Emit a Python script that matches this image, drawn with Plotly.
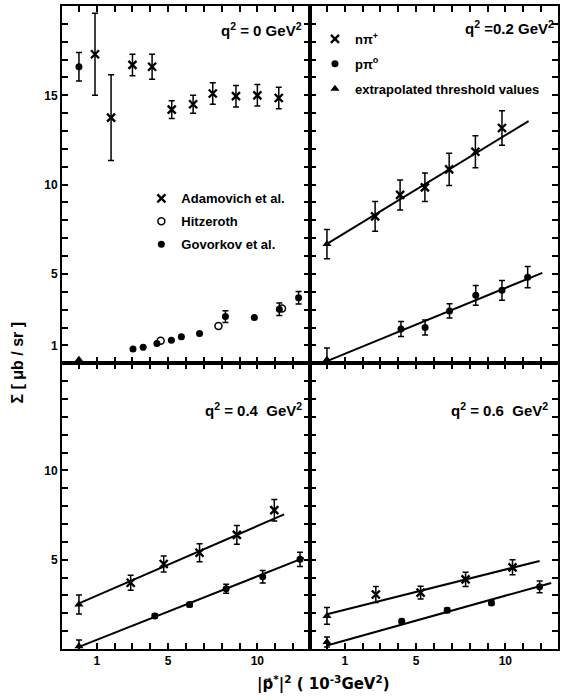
import plotly.graph_objects as go
from plotly.subplots import make_subplots

# ---------------- data ----------------
# panel q^2 = 0 GeV^2
adam_x = [0.9, 1.8, 3.0, 4.1, 5.2, 6.4, 7.5, 8.8, 10.0, 11.2]
adam_y = [17.3, 13.75, 16.7, 16.6, 14.2, 14.5, 15.1, 14.95, 15.0, 14.85]
adam_e = [2.3, 2.4, 0.6, 0.7, 0.5, 0.5, 0.6, 0.6, 0.6, 0.6]
hitz_x = [4.58, 7.82, 11.38]
hitz_y = [1.26, 2.09, 3.07]
govo_x = [0.0, 3.03, 3.6, 4.37, 5.18, 5.74, 6.76, 8.21, 9.83, 11.23, 12.31]
govo_y = [16.6, 0.79, 0.89, 1.11, 1.29, 1.48, 1.67, 2.61, 2.56, 3.02, 3.67]
govo_e = [0.8, 0, 0, 0, 0, 0, 0, 0.33, 0, 0.35, 0.35]
thr0_x = [0.0]
thr0_y = [0.2]

# panel q^2 = 0.2 GeV^2
p2_npi_x = [2.7, 4.1, 5.49, 6.85, 8.32, 9.81]
p2_npi_y = [8.22, 9.42, 9.85, 10.85, 11.84, 13.17]
p2_npi_e = [0.83, 0.84, 0.8, 0.9, 0.9, 0.97]
p2_ppi_x = [4.15, 5.5, 6.87, 8.34, 9.81, 11.25]
p2_ppi_y = [1.91, 2.0, 2.93, 3.8, 4.08, 4.82]
p2_ppi_e = [0.42, 0.42, 0.4, 0.55, 0.55, 0.6]
p2_thr_x = [0.0, 0.0]
p2_thr_y = [6.67, 0.2]
p2_thr_e = [0.82, 0.65]
p2_fit_npi_x = [0.0, 11.3]
p2_fit_npi_y = [6.68, 13.56]
p2_fit_ppi_x = [0.0, 12.07]
p2_fit_ppi_y = [0.12, 5.06]

# panel q^2 = 0.4 GeV^2
p4_npi_x = [2.9, 4.75, 6.76, 8.85, 10.95]
p4_npi_y = [3.71, 4.76, 5.39, 6.39, 7.77]
p4_npi_e = [0.42, 0.45, 0.5, 0.53, 0.6]
p4_ppi_x = [4.25, 6.2, 8.25, 10.3, 12.39]
p4_ppi_y = [1.85, 2.49, 3.37, 4.05, 5.02]
p4_ppi_e = [0.12, 0.12, 0.25, 0.35, 0.4]
p4_thr_x = [0.0, 0.0]
p4_thr_y = [2.49, 0.15]
p4_thr_e = [0.53, 0.35]
p4_fit_npi_x = [0.0, 11.5]
p4_fit_npi_y = [2.55, 7.54]
p4_fit_ppi_x = [0.0, 12.6]
p4_fit_ppi_y = [0.12, 5.1]

# panel q^2 = 0.6 GeV^2
p6_npi_x = [2.74, 5.25, 7.77, 10.4]
p6_npi_y = [3.05, 3.16, 3.9, 4.57]
p6_npi_e = [0.45, 0.36, 0.4, 0.42]
p6_ppi_x = [4.19, 6.74, 9.22, 11.92]
p6_ppi_y = [1.55, 2.17, 2.58, 3.48]
p6_ppi_e = [0.12, 0.12, 0.12, 0.33]
p6_thr_x = [0.0, 0.0]
p6_thr_y = [1.85, 0.39]
p6_thr_e = [0.47, 0.28]
p6_fit_npi_x = [0.0, 11.92]
p6_fit_npi_y = [1.95, 4.93]
p6_fit_ppi_x = [0.0, 12.57]
p6_fit_ppi_y = [0.2, 3.7]

x_tick_labels = [1, 5, 10]
top_y_tick_labels = [1, 5, 10, 15]
bot_y_tick_labels = [5, 10]

panel_titles = ["q<sup>2</sup> = 0 GeV<sup>2</sup>",
                "q<sup>2</sup> =0.2 GeV<sup>2</sup>",
                "q<sup>2</sup> = 0.4  GeV<sup>2</sup>",
                "q<sup>2</sup> = 0.6  GeV<sup>2</sup>"]

# ---------------- figure ----------------
FONT = "Liberation Sans"
fig = make_subplots(rows=2, cols=2, horizontal_spacing=0, vertical_spacing=0,
                    row_heights=[20 / 36, 16 / 36])

ERR = dict(type="data", thickness=1.5, width=3, color="black")


def pts(x, y, e, symbol, row, col, name=None, legend=None, size=7, group=None):
    if symbol == "x-thin":
        marker = dict(symbol=symbol, size=8, color="black", line=dict(width=2.4, color="black"))
    elif symbol == "circle-open":
        marker = dict(symbol=symbol, size=size, color="black", line=dict(width=1.5, color="black"))
    else:
        marker = dict(symbol=symbol, size=size, color="black", line=dict(width=0))
    tr = go.Scatter(x=x, y=y, mode="markers", marker=marker, cliponaxis=False,
                    error_y=dict(array=e, visible=e is not None, **ERR),
                    showlegend=name is not None, name=name or "",
                    legendgroup=group)
    if legend:
        tr.legend = legend
    fig.add_trace(tr, row=row, col=col)


def fit(x, y, row, col):
    fig.add_trace(go.Scatter(x=x, y=y, mode="lines", line=dict(color="black", width=2),
                             showlegend=False, hoverinfo="skip"), row=row, col=col)


# q2 = 0
pts(adam_x, adam_y, adam_e, "x-thin", 1, 1, "Adamovich et al.", "legend", group="a")
pts(hitz_x, hitz_y, None, "circle-open", 1, 1, "Hitzeroth", "legend", group="b")
pts(govo_x, govo_y, govo_e, "circle", 1, 1, "Govorkov et al.", "legend", group="c")
pts(thr0_x, thr0_y, None, "triangle-up", 1, 1, size=8)

# q2 = 0.2
fit(p2_fit_npi_x, p2_fit_npi_y, 1, 2)
fit(p2_fit_ppi_x, p2_fit_ppi_y, 1, 2)
pts(p2_npi_x, p2_npi_y, p2_npi_e, "x-thin", 1, 2, "n\u03c0<sup>+</sup>", "legend2", group="d")
pts(p2_ppi_x, p2_ppi_y, p2_ppi_e, "circle", 1, 2, "p\u03c0<sup>o</sup>", "legend2", group="e")
pts(p2_thr_x, p2_thr_y, p2_thr_e, "triangle-up", 1, 2, "extrapolated threshold values",
    "legend2", size=8, group="f")

# q2 = 0.4
fit(p4_fit_npi_x, p4_fit_npi_y, 2, 1)
fit(p4_fit_ppi_x, p4_fit_ppi_y, 2, 1)
pts(p4_npi_x, p4_npi_y, p4_npi_e, "x-thin", 2, 1)
pts(p4_ppi_x, p4_ppi_y, p4_ppi_e, "circle", 2, 1)
pts(p4_thr_x, p4_thr_y, p4_thr_e, "triangle-up", 2, 1, size=8)

# q2 = 0.6
fit(p6_fit_npi_x, p6_fit_npi_y, 2, 2)
fit(p6_fit_ppi_x, p6_fit_ppi_y, 2, 2)
pts(p6_npi_x, p6_npi_y, p6_npi_e, "x-thin", 2, 2)
pts(p6_ppi_x, p6_ppi_y, p6_ppi_e, "circle", 2, 2)
pts(p6_thr_x, p6_thr_y, p6_thr_e, "triangle-up", 2, 2, size=8)

MINOR = dict(ticks="inside", ticklen=6, tickwidth=1.5, tickcolor="black", dtick=1, tick0=0,
             showgrid=False)
AX = dict(showline=True, linewidth=2, linecolor="black", mirror="ticks",
          ticks="inside", ticklen=6, tickwidth=1.5, tickcolor="black",
          showgrid=False, zeroline=False, minor=MINOR, tickmode="array",
          tickfont=dict(family=FONT, size=12, color="black", weight="bold"))

for r in (1, 2):
    for c in (1, 2):
        fig.update_xaxes(AX, range=[-0.95, 12.95], tickvals=x_tick_labels,
                         ticktext=[str(v) for v in x_tick_labels],
                         showticklabels=(r == 2), row=r, col=c)
        yv = top_y_tick_labels if r == 1 else bot_y_tick_labels
        fig.update_yaxes(AX, range=[0, 20] if r == 1 else [0, 16], tickvals=yv,
                         ticktext=[str(v) for v in yv],
                         showticklabels=(c == 1), row=r, col=c)

TXT = dict(family=FONT, size=13, color="black", weight="bold")
TTL = dict(family=FONT, size=15, color="black", weight="bold")
# panel labels: (axis suffix, x domain, y domain)
label_pos = [("", 0.976, 0.933), ("2", 0.992, 0.939), ("3", 0.976, 0.839), ("4", 0.968, 0.839)]
for (sfx, lx, ly), txt in zip(label_pos, panel_titles):
    fig.add_annotation(text=txt, xref=f"x{sfx} domain", yref=f"y{sfx} domain",
                       x=lx, y=ly, xanchor="right", yanchor="middle",
                       showarrow=False, font=TTL)

fig.add_annotation(text="\u03a3 [ \u03bcb / sr ]", xref="paper", yref="paper",
                   x=-0.09, y=0.446, textangle=-90, showarrow=False,
                   xanchor="center", yanchor="middle",
                   font=dict(family=FONT, size=16, color="black", weight="bold"))
fig.add_annotation(text="|p\u20d7<sup>*</sup>|<sup>2</sup> ( 10<sup>-3</sup>GeV<sup>2</sup>)",
                   xref="paper", yref="paper", x=0.528, y=-0.054,
                   showarrow=False, xanchor="center", yanchor="middle",
                   font=dict(family="DejaVu Sans", size=15, color="black", weight="bold"))

LEG = dict(bgcolor="rgba(0,0,0,0)", font=TXT, xanchor="left", yanchor="top",
           itemwidth=30, traceorder="grouped")
fig.update_layout(
    width=562, height=700,
    margin=dict(l=62, r=2, t=6, b=51),
    paper_bgcolor="white", plot_bgcolor="white",
    font=dict(family=FONT, color="black"),
    legend=dict(LEG, x=0.16, y=0.724, tracegroupgap=3),
    legend2=dict(LEG, x=0.51, y=0.972, tracegroupgap=5),
)

fig.write_html("out.html", config={"displayModeBar": False},
               post_script="document.body.style.margin='0px';")
